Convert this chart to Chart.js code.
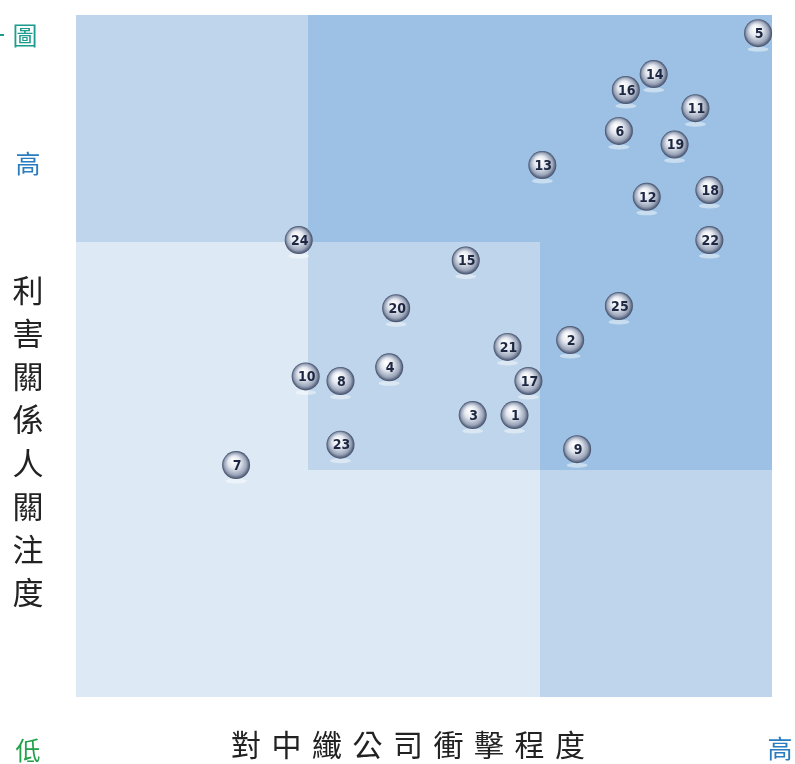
<!DOCTYPE html>
<html>
<head>
<meta charset="utf-8">
<script src="https://cdn.jsdelivr.net/npm/chart.js@4.4.1/dist/chart.umd.min.js"></script>
<style>
  body { margin: 0; background: #fff; }
  #wrap { width: 795px; height: 764px; }
</style>
</head>
<body>
<div id="wrap"><canvas id="matrix" width="795" height="764"></canvas></div>
<script>
// issue numbers and their scores (x = impact on company, y = stakeholder concern), scale 0-3
const issueIds = ['5', '14', '16', '11', '6', '19', '13', '12', '18', '22', '24', '15', '20', '25', '2', '21', '4', '10', '8', '17', '3', '1', '23', '9', '7'];
const impactScores = [2.94, 2.49, 2.37, 2.67, 2.34, 2.58, 2.01, 2.46, 2.73, 2.73, 0.96, 1.68, 1.38, 2.34, 2.13, 1.86, 1.35, 0.99, 1.14, 1.95, 1.71, 1.89, 1.14, 2.16, 0.69];
const concernScores = [2.92, 2.74, 2.67, 2.59, 2.49, 2.43, 2.34, 2.20, 2.23, 2.01, 2.01, 1.92, 1.71, 1.72, 1.57, 1.54, 1.45, 1.41, 1.39, 1.39, 1.24, 1.24, 1.11, 1.09, 1.02];

const xTitle = '對中纖公司衝擊程度';
const yTitle = '利害關係人關注度';

const LIGHT = '#dde9f4';
const MID = '#bed5eb';
const DARK = '#9cc1e4';

// shaded zones of the matrix as polygons, in score units
const zones = [
  { pts: [[0, 0], [3, 0], [3, 3], [0, 3]], c: LIGHT },
  { pts: [[0, 2], [1, 2], [1, 3], [0, 3]], c: MID },
  { pts: [[2, 0], [3, 0], [3, 1], [2, 1]], c: MID },
  { pts: [[1, 1], [2, 1], [2, 2], [1, 2]], c: MID },
  { pts: [[1, 3], [3, 3], [3, 1], [2, 1], [2, 2], [1, 2]], c: DARK }
];

const zonePlugin = {
  id: 'zones',
  beforeDatasetsDraw(chart) {
    const { ctx, scales: { x, y } } = chart;
    ctx.save();
    zones.forEach(z => {
      ctx.fillStyle = z.c;
      ctx.beginPath();
      z.pts.forEach((p, i) => {
        const px = Math.round(x.getPixelForValue(p[0]));
        const py = Math.round(y.getPixelForValue(p[1]));
        if (i === 0) ctx.moveTo(px, py); else ctx.lineTo(px, py);
      });
      ctx.closePath();
      ctx.fill();
    });
    ctx.restore();
  }
};

const ballPlugin = {
  id: 'balls',
  afterDatasetsDraw(chart) {
    const ctx = chart.ctx;
    const meta = chart.getDatasetMeta(0);
    ctx.save();
    meta.data.forEach((pt, i) => {
      const px = pt.x, py = pt.y, r = 14;
      // faint reflection under the ball
      ctx.fillStyle = 'rgba(255,255,255,0.45)';
      ctx.beginPath();
      ctx.ellipse(px, py + r + 2, r * 0.75, 2.5, 0, 0, Math.PI * 2);
      ctx.fill();
      const g = ctx.createRadialGradient(px - 3, py - 5, 1, px, py, r);
      g.addColorStop(0, '#ffffff');
      g.addColorStop(0.4, '#e3e7ef');
      g.addColorStop(0.78, '#9aa5ba');
      g.addColorStop(1, '#3f4b66');
      ctx.fillStyle = g;
      ctx.beginPath();
      ctx.arc(px, py, r, 0, Math.PI * 2);
      ctx.fill();
      ctx.fillStyle = '#1d2742';
      ctx.font = 'bold 14px "DejaVu Sans Condensed", "Liberation Sans", sans-serif';
      ctx.textAlign = 'center';
      ctx.textBaseline = 'middle';
      ctx.fillText(issueIds[i], px + 1, py + 1);
    });
    ctx.restore();
  }
};

const labelPlugin = {
  id: 'labels',
  afterDraw(chart) {
    const ctx = chart.ctx;
    ctx.save();
    ctx.textAlign = 'center';
    ctx.textBaseline = 'middle';
    ctx.font = '400 25px "Noto Sans CJK TC", sans-serif';
    ctx.fillStyle = '#1c9c8c';
    ctx.fillText('圖', 25, 35);
    ctx.fillRect(0, 34, 4, 2);
    ctx.fillStyle = '#2a7cc0';
    ctx.fillText('高', 28, 163);
    ctx.fillText('高', 780, 748);
    ctx.fillStyle = '#22a04a';
    ctx.fillText('低', 28, 750);

    ctx.fillStyle = '#222';
    ctx.font = '400 30px "Noto Sans CJK TC", sans-serif';
    const xs = 246, step = 40.5;
    [...xTitle].forEach((ch, i) => ctx.fillText(ch, xs + i * step, 745));
    ctx.font = '400 31px "Noto Sans CJK TC", sans-serif';
    [...yTitle].forEach((ch, i) => ctx.fillText(ch, 28, 290 + i * 43.2));
    ctx.restore();
  }
};

new Chart(document.getElementById('matrix'), {
  type: 'scatter',
  data: {
    datasets: [{
      label: 'issues',
      data: impactScores.map((v, i) => ({ x: v, y: concernScores[i] })),
      pointRadius: 14,
      pointHoverRadius: 14,
      backgroundColor: 'rgba(0,0,0,0)',
      borderColor: 'rgba(0,0,0,0)'
    }]
  },
  options: {
    responsive: false,
    animation: false,
    layout: { padding: { left: 76, right: 23, top: 15, bottom: 67 } },
    plugins: {
      legend: { display: false },
      tooltip: { enabled: false }
    },
    scales: {
      x: { type: 'linear', min: 0, max: 3, display: false },
      y: { type: 'linear', min: 0, max: 3, display: false }
    }
  },
  plugins: [zonePlugin, ballPlugin, labelPlugin]
});
</script>
</body>
</html>
